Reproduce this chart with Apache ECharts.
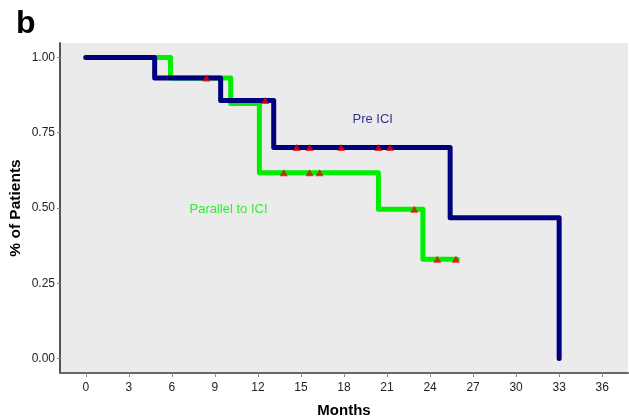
<!DOCTYPE html>
<html>
<head>
<meta charset="utf-8">
<script src="https://cdn.jsdelivr.net/npm/echarts@6/dist/echarts.min.js"></script>
<style>html,body{margin:0;padding:0;background:#fff}#c{width:629px;height:418px}</style>
</head>
<body>
<div id="c"></div>
<script>
// Pre ICI (navy) step curve: times and survival
var preTimes = [0, 4.8, 9.4, 13.1, 25.4, 33.0];
var preSurv  = [1.00, 0.932, 0.857, 0.701, 0.468, 0.0];
var preEnd = 33.0;
var preCensorT = [8.4, 12.5, 14.7, 15.6, 17.8, 20.4, 21.2];
var preCensorS = [0.932, 0.857, 0.701, 0.701, 0.701, 0.701, 0.701];

// Parallel to ICI (green)
var parTimes = [0, 5.9, 10.1, 12.1, 20.4, 23.5];
var parSurv  = [1.00, 0.932, 0.847, 0.617, 0.496, 0.330];
var parEnd = 25.9;
var parCensorT = [13.8, 15.6, 16.3, 22.9, 24.5, 25.8];
var parCensorS = [0.617, 0.617, 0.617, 0.496, 0.330, 0.330];

var xTicks = [0, 3, 6, 9, 12, 15, 18, 21, 24, 27, 30, 33, 36];
var yTicks = [0, 0.25, 0.5, 0.75, 1.0];

var labelPre = ['Pre ICI', 20.0, 0.795];
var labelPar = ['Parallel to ICI', 9.95, 0.494];

function stepData(t, s, end) {
  var d = [];
  for (var i = 0; i < t.length; i++) d.push([t[i], s[i]]);
  if (end > t[t.length - 1]) d.push([end, s[s.length - 1]]);
  return d;
}
function pairs(t, s) { return t.map(function (v, i) { return [v, s[i]]; }); }

var FONT = 'Liberation Sans';
var chart = echarts.init(document.getElementById('c'), null, {renderer: 'canvas'});
chart.setOption({
  animation: false,
  textStyle: {fontFamily: FONT},
  graphic: [{
    type: 'text', left: 16, top: 8,
    style: {text: 'b', font: 'bold 32px "Liberation Sans"', fill: '#000'}
  }],
  grid: {left: 60, right: 1, top: 43, bottom: 45, show: true, backgroundColor: '#ebebeb', borderWidth: 0,
         containLabel: false, outerBoundsMode: 'none'},
  xAxis: {
    type: 'value', min: -1.8, max: 37.8,
    name: 'Months', nameLocation: 'middle', nameGap: 30, nameMoveOverlap: false,
    nameTextStyle: {fontWeight: 'bold', fontSize: 15, color: '#000', fontFamily: FONT},
    axisLine: {show: true, onZero: false, lineStyle: {color: '#666', width: 2}},
    axisTick: {show: true, customValues: xTicks, length: 4, lineStyle: {color: '#888'}},
    axisLabel: {customValues: xTicks, color: '#222', fontSize: 12, margin: 9, fontFamily: FONT},
    splitLine: {show: false}
  },
  yAxis: {
    type: 'value', min: -0.048, max: 1.048,
    name: '% of Patients', nameLocation: 'middle', nameGap: 36, nameMoveOverlap: false,
    nameTextStyle: {fontWeight: 'bold', fontSize: 15.5, color: '#000', fontFamily: FONT},
    axisLine: {show: true, onZero: false, lineStyle: {color: '#555', width: 2}},
    axisTick: {show: true, customValues: yTicks, length: 3, lineStyle: {color: '#888'}},
    axisLabel: {customValues: yTicks, color: '#222', fontSize: 12, margin: 5, fontFamily: FONT,
      formatter: function (v) { return v.toFixed(2); }},
    splitLine: {show: false}
  },
  series: [
    {type: 'line', step: 'end', data: stepData(parTimes, parSurv, parEnd), symbol: 'none',
     lineStyle: {color: '#00ee00', width: 5, join: 'round', cap: 'round'}, z: 2},
    {type: 'line', step: 'end', data: stepData(preTimes, preSurv, preEnd), symbol: 'none',
     lineStyle: {color: '#00007f', width: 5, join: 'round', cap: 'round'}, z: 3},
    {type: 'scatter', data: pairs(preCensorT, preCensorS).concat(pairs(parCensorT, parCensorS)),
     symbol: 'triangle', symbolSize: [8, 7], itemStyle: {color: '#ee0000'}, z: 5},
    {type: 'scatter', symbolSize: 0, z: 6,
     data: [{value: [labelPre[1], labelPre[2]], name: labelPre[0],
             label: {show: true, position: 'inside', formatter: '{b}', color: '#00007f', fontSize: 13, fontFamily: FONT}},
            {value: [labelPar[1], labelPar[2]], name: labelPar[0],
             label: {show: true, position: 'inside', formatter: '{b}', color: '#00ee00', fontSize: 13, fontFamily: FONT}}]}
  ]
});
</script>
</body>
</html>
